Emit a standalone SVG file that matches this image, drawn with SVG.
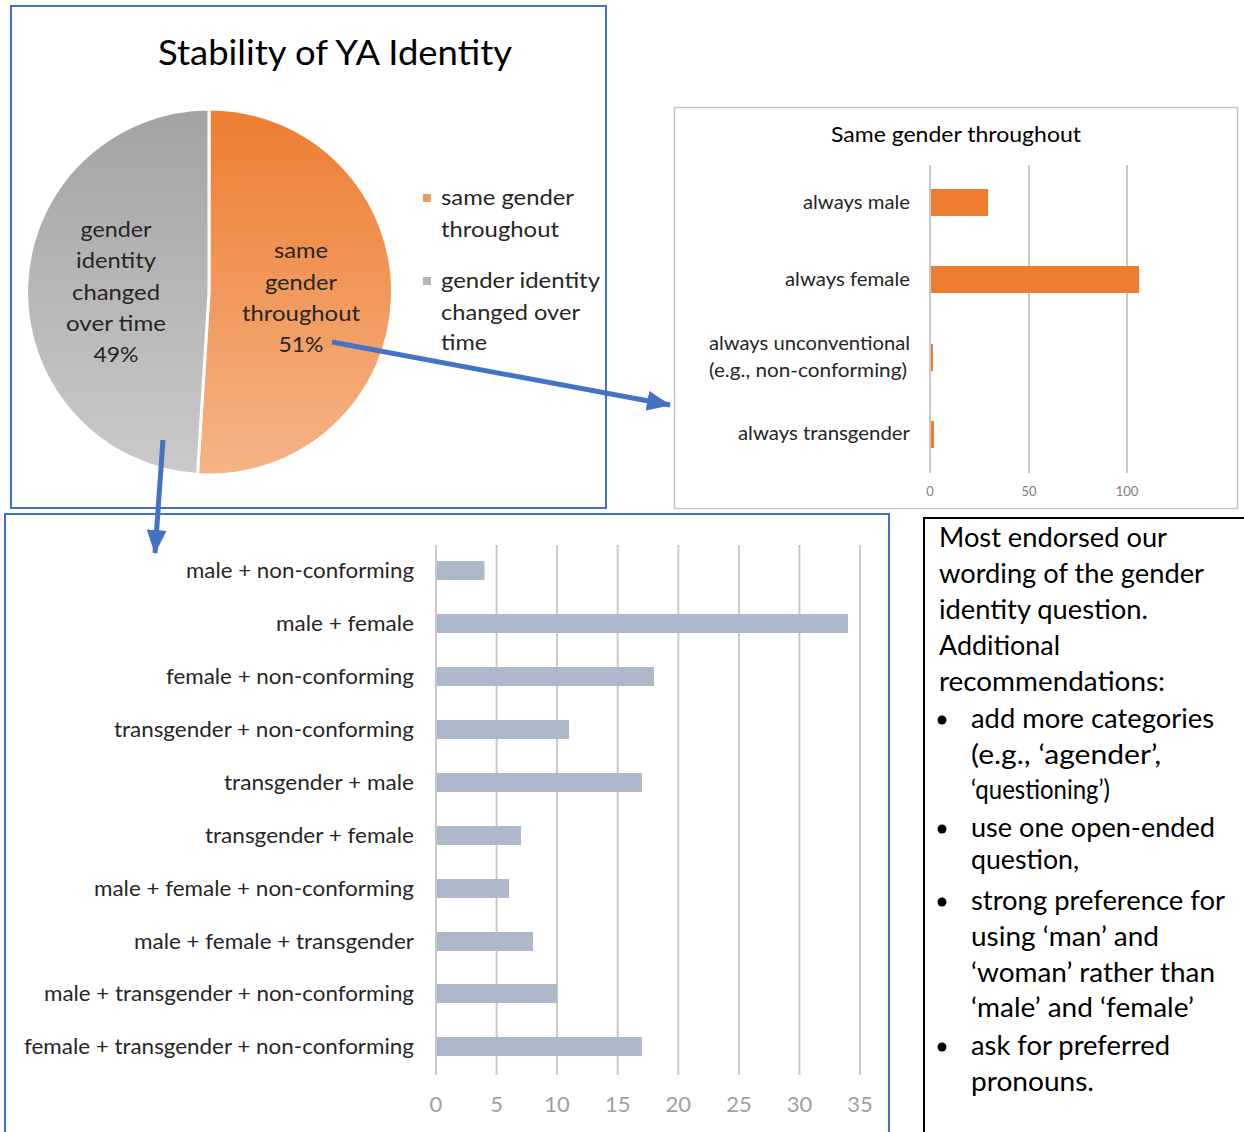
<svg xmlns="http://www.w3.org/2000/svg" width="1244" height="1132" viewBox="0 0 1244 1132">
<style>
text{font-family:Lato,"Open Sans","Liberation Sans",sans-serif;fill:#000}
.pl{font-size:22px;text-anchor:middle;fill:#262626}
.lg{font-size:22px;fill:#262626}
.rc{font-size:19px;text-anchor:end;fill:#262626}
.bc{font-size:21px;text-anchor:end;fill:#262626}
.ax1{font-size:13px;text-anchor:middle;fill:#808080}
.ax2{font-size:22px;text-anchor:middle;fill:#A0A0A0}
.note{font-size:26px;fill:#000}
.grid{stroke:#C8C8C8;stroke-width:2}
.bar2{fill:#ADB9CA}
.bar1{fill:#ED7D31}
.arrow{stroke:#4472C4;stroke-width:5;fill:none;marker-end:url(#ah)}
</style>
<defs>
<linearGradient id="og" gradientUnits="userSpaceOnUse" x1="0" y1="109" x2="0" y2="476">
<stop offset="0" stop-color="#ED7D31"/><stop offset="1" stop-color="#F5B487"/>
</linearGradient>
<linearGradient id="gg" gradientUnits="userSpaceOnUse" x1="0" y1="109" x2="0" y2="476">
<stop offset="0" stop-color="#A3A3A3"/><stop offset="1" stop-color="#CACACA"/>
</linearGradient>
<marker id="ah" markerUnits="userSpaceOnUse" markerWidth="24" markerHeight="20" refX="23" refY="10" orient="auto">
<path d="M0,0 L24,10 L0,20 z" fill="#4472C4"/>
</marker>
</defs>
<rect width="1244" height="1132" fill="#fff"/>

<g id="pie-chart">
<rect x="11" y="6" width="595" height="502" fill="#fff" stroke="#4472C4" stroke-width="2"/>
<text x="335" y="65" font-size="34" text-anchor="middle" fill="#000" textLength="354" lengthAdjust="spacingAndGlyphs">Stability of YA Identity</text>
<path d="M209,292 L209,109 A183,183 0 1 1 197.5,474.6 Z" fill="url(#og)" stroke="#fff" stroke-width="3"/>
<path d="M209,292 L197.5,474.6 A183,183 0 0 1 209,109 Z" fill="url(#gg)" stroke="#fff" stroke-width="3"/>
<text class="pl" x="116" y="237" textLength="71" lengthAdjust="spacingAndGlyphs">gender</text>
<text class="pl" x="116" y="268" textLength="80" lengthAdjust="spacingAndGlyphs">identity</text>
<text class="pl" x="116" y="300" textLength="88" lengthAdjust="spacingAndGlyphs">changed</text>
<text class="pl" x="116" y="331" textLength="100" lengthAdjust="spacingAndGlyphs">over time</text>
<text class="pl" x="116" y="362" textLength="45" lengthAdjust="spacingAndGlyphs">49%</text>
<text class="pl" x="301" y="258" textLength="54" lengthAdjust="spacingAndGlyphs">same</text>
<text class="pl" x="301" y="290" textLength="72" lengthAdjust="spacingAndGlyphs">gender</text>
<text class="pl" x="301" y="321" textLength="118" lengthAdjust="spacingAndGlyphs">throughout</text>
<text class="pl" x="301" y="352" textLength="45" lengthAdjust="spacingAndGlyphs">51%</text>
<rect x="423" y="194" width="8" height="8" fill="#F09A5C"/>
<text class="lg" x="441" y="205" textLength="133" lengthAdjust="spacingAndGlyphs">same gender</text>
<text class="lg" x="441" y="237" textLength="118" lengthAdjust="spacingAndGlyphs">throughout</text>
<rect x="423" y="277" width="8" height="8" fill="#B5B5B5"/>
<text class="lg" x="441" y="288" textLength="159" lengthAdjust="spacingAndGlyphs">gender identity</text>
<text class="lg" x="441" y="320" textLength="139" lengthAdjust="spacingAndGlyphs">changed over</text>
<text class="lg" x="441" y="350" textLength="46" lengthAdjust="spacingAndGlyphs">time</text>
</g>

<g id="same-gender-chart">
<rect x="674.5" y="107.5" width="563" height="401" fill="#fff" stroke="#C4C4C4" stroke-width="1.5"/>
<text x="956" y="142" font-size="22" text-anchor="middle" fill="#6A6A6A" textLength="250" lengthAdjust="spacingAndGlyphs">Same gender throughout</text>
<line class="grid" x1="930" y1="165" x2="930" y2="473"/>
<line class="grid" x1="1029" y1="165" x2="1029" y2="473"/>
<line class="grid" x1="1127" y1="165" x2="1127" y2="473"/>
<rect class="bar1" x="931" y="189" width="57" height="27"/>
<rect class="bar1" x="931" y="266" width="208" height="27"/>
<rect class="bar1" x="931" y="344" width="2" height="27"/>
<rect class="bar1" x="931" y="421" width="3" height="27"/>
<text class="rc" x="910" y="209" textLength="107" lengthAdjust="spacingAndGlyphs">always male</text>
<text class="rc" x="910" y="286" textLength="125" lengthAdjust="spacingAndGlyphs">always female</text>
<text class="rc" x="910" y="350" textLength="201" lengthAdjust="spacingAndGlyphs">always unconventional</text>
<text class="rc" x="907" y="377" textLength="198" lengthAdjust="spacingAndGlyphs">(e.g., non-conforming)</text>
<text class="rc" x="910" y="440" textLength="172" lengthAdjust="spacingAndGlyphs">always transgender</text>
<text class="ax1" x="930" y="496">0</text>
<text class="ax1" x="1029" y="496">50</text>
<text class="ax1" x="1127" y="496">100</text>
</g>

<g id="changed-chart">
<rect x="5" y="514" width="884" height="630" fill="#fff" stroke="#4472C4" stroke-width="2"/>
<line class="grid" x1="436" y1="545" x2="436" y2="1075"/>
<line class="grid" x1="496.6" y1="545" x2="496.6" y2="1075"/>
<line class="grid" x1="557.1" y1="545" x2="557.1" y2="1075"/>
<line class="grid" x1="617.7" y1="545" x2="617.7" y2="1075"/>
<line class="grid" x1="678.3" y1="545" x2="678.3" y2="1075"/>
<line class="grid" x1="738.9" y1="545" x2="738.9" y2="1075"/>
<line class="grid" x1="799.4" y1="545" x2="799.4" y2="1075"/>
<line class="grid" x1="860" y1="545" x2="860" y2="1075"/>
<rect class="bar2" x="437" y="561" width="47.5" height="19"/>
<rect class="bar2" x="437" y="614" width="411" height="19"/>
<rect class="bar2" x="437" y="667" width="217" height="19"/>
<rect class="bar2" x="437" y="720" width="132" height="19"/>
<rect class="bar2" x="437" y="773" width="205" height="19"/>
<rect class="bar2" x="437" y="826" width="84" height="19"/>
<rect class="bar2" x="437" y="879" width="72" height="19"/>
<rect class="bar2" x="437" y="932" width="96" height="19"/>
<rect class="bar2" x="437" y="984" width="120" height="19"/>
<rect class="bar2" x="437" y="1037" width="205" height="19"/>
<text class="bc" x="414" y="578" textLength="228" lengthAdjust="spacingAndGlyphs">male + non-conforming</text>
<text class="bc" x="414" y="631" textLength="138" lengthAdjust="spacingAndGlyphs">male + female</text>
<text class="bc" x="414" y="684" textLength="248" lengthAdjust="spacingAndGlyphs">female + non-conforming</text>
<text class="bc" x="414" y="737" textLength="300" lengthAdjust="spacingAndGlyphs">transgender + non-conforming</text>
<text class="bc" x="414" y="790" textLength="190" lengthAdjust="spacingAndGlyphs">transgender + male</text>
<text class="bc" x="414" y="843" textLength="209" lengthAdjust="spacingAndGlyphs">transgender + female</text>
<text class="bc" x="414" y="896" textLength="320" lengthAdjust="spacingAndGlyphs">male + female + non-conforming</text>
<text class="bc" x="414" y="949" textLength="280" lengthAdjust="spacingAndGlyphs">male + female + transgender</text>
<text class="bc" x="414" y="1001" textLength="370" lengthAdjust="spacingAndGlyphs">male + transgender + non-conforming</text>
<text class="bc" x="414" y="1054" textLength="390" lengthAdjust="spacingAndGlyphs">female + transgender + non-conforming</text>
<text class="ax2" x="436" y="1112">0</text>
<text class="ax2" x="496.6" y="1112">5</text>
<text class="ax2" x="557.1" y="1112">10</text>
<text class="ax2" x="617.7" y="1112">15</text>
<text class="ax2" x="678.3" y="1112">20</text>
<text class="ax2" x="738.9" y="1112">25</text>
<text class="ax2" x="799.4" y="1112">30</text>
<text class="ax2" x="860" y="1112">35</text>
</g>

<g id="notes">
<rect x="924" y="518" width="330" height="630" fill="#fff" stroke="#000" stroke-width="2"/>
<text class="note" x="939" y="547" textLength="228" lengthAdjust="spacingAndGlyphs">Most endorsed our</text>
<text class="note" x="939" y="583" textLength="265" lengthAdjust="spacingAndGlyphs">wording of the gender</text>
<text class="note" x="939" y="619" textLength="209" lengthAdjust="spacingAndGlyphs">identity question.</text>
<text class="note" x="939" y="655" textLength="121" lengthAdjust="spacingAndGlyphs">Additional</text>
<text class="note" x="939" y="691" textLength="226" lengthAdjust="spacingAndGlyphs">recommendations:</text>
<circle cx="942" cy="720" r="4.5"/>
<text class="note" x="971" y="728" textLength="243" lengthAdjust="spacingAndGlyphs">add more categories</text>
<text class="note" x="971" y="764" textLength="190" lengthAdjust="spacingAndGlyphs">(e.g., ‘agender’,</text>
<text class="note" x="971" y="799" textLength="139" lengthAdjust="spacingAndGlyphs">‘questioning’)</text>
<circle cx="942" cy="829" r="4.5"/>
<text class="note" x="971" y="837" textLength="244" lengthAdjust="spacingAndGlyphs">use one open-ended</text>
<text class="note" x="971" y="869" textLength="108" lengthAdjust="spacingAndGlyphs">question,</text>
<circle cx="942" cy="902" r="4.5"/>
<text class="note" x="971" y="910" textLength="254" lengthAdjust="spacingAndGlyphs">strong preference for</text>
<text class="note" x="971" y="946" textLength="188" lengthAdjust="spacingAndGlyphs">using ‘man’ and</text>
<text class="note" x="971" y="982" textLength="244" lengthAdjust="spacingAndGlyphs">‘woman’ rather than</text>
<text class="note" x="971" y="1017" textLength="223" lengthAdjust="spacingAndGlyphs">‘male’ and ‘female’</text>
<circle cx="942" cy="1047" r="4.5"/>
<text class="note" x="971" y="1055" textLength="199" lengthAdjust="spacingAndGlyphs">ask for preferred</text>
<text class="note" x="971" y="1091" textLength="123" lengthAdjust="spacingAndGlyphs">pronouns.</text>
</g>

<g id="connectors">
<line class="arrow" x1="332" y1="342" x2="670" y2="405"/>
<line class="arrow" x1="163" y1="440" x2="155" y2="553"/>
</g>
</svg>
